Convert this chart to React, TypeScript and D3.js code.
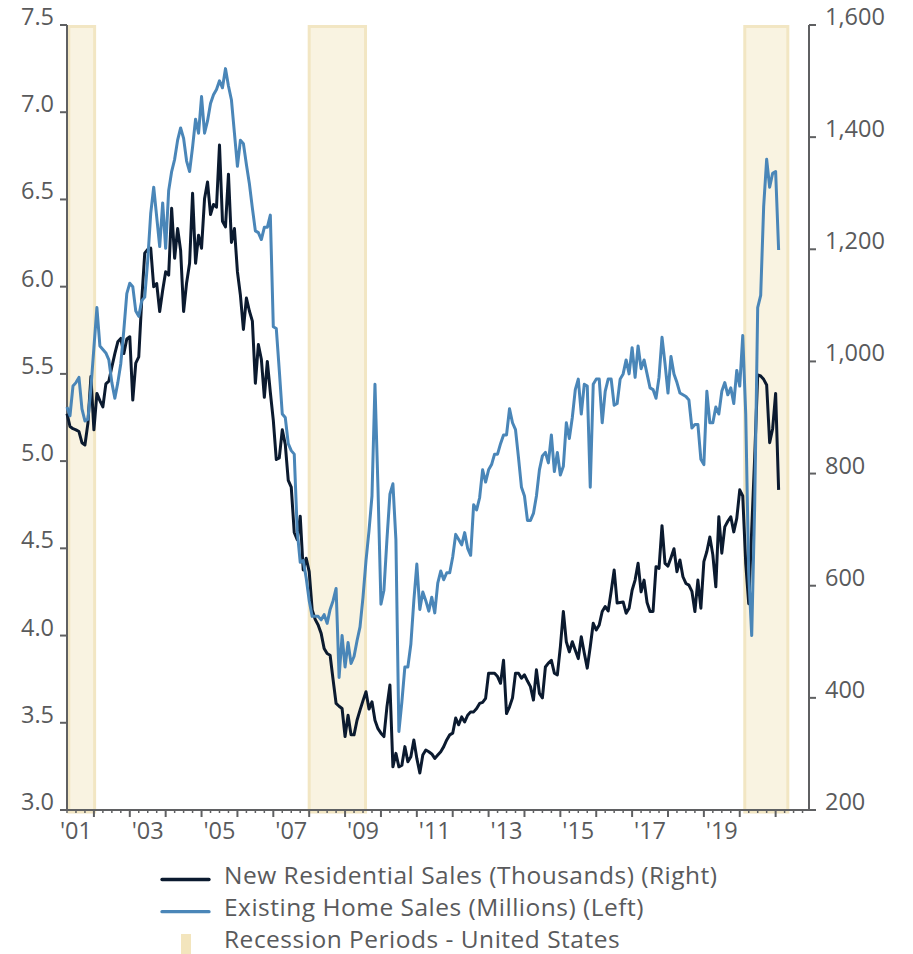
import React from "react";
import * as d3 from "d3";

// ---- Data (monthly, starting April 2001, ending February 2021) ----
const START_YEAR = 2001;
const START_MONTH = 4; // April

// New Residential Sales (Thousands, SAAR) — right axis
const newHomeSales: number[] = [
  // 2001 Apr-Dec
  907, 884, 880, 878, 875, 855, 851, 890, 973,
  // 2002
  878, 943, 930, 919, 960, 965, 990, 1014, 1035, 1041, 1014, 1040,
  // 2003
  1044, 931, 997, 1008, 1110, 1193, 1200, 1202, 1133, 1139, 1089, 1127,
  // 2004
  1160, 1154, 1273, 1184, 1237, 1198, 1089, 1140, 1175, 1300, 1175, 1225,
  // 2005
  1202, 1290, 1320, 1262, 1280, 1275, 1386, 1250, 1240, 1334, 1212, 1237,
  // 2006
  1160, 1118, 1057, 1113, 1090, 1072, 961, 1030, 1004, 936, 1000, 945,
  // 2007
  895, 825, 828, 878, 852, 788, 776, 695, 682, 724, 628, 649,
  // 2008
  625, 557, 540, 530, 515, 488, 479, 476, 432, 390, 385, 381,
  // 2009
  331, 369, 334, 334, 360, 378, 395, 411, 380, 393, 360, 345,
  // 2010
  337, 331, 384, 423, 277, 301, 277, 280, 313, 286, 295, 325,
  // 2011
  292, 266, 298, 307, 304, 300, 292, 298, 304, 313, 325, 334,
  // 2012
  337, 364, 352, 366, 357, 369, 375, 375, 381, 390, 392, 399,
  // 2013
  444, 444, 444, 438, 426, 467, 372, 384, 400, 444, 444, 435,
  // 2014
  441, 430, 420, 396, 450, 408, 400, 455, 462, 467, 444, 441,
  // 2015
  491, 554, 500, 482, 500, 485, 470, 509, 480, 453, 491, 533,
  // 2016
  521, 530, 554, 563, 555, 590, 628, 569, 570, 571, 551, 560,
  // 2017
  592, 610, 640, 589, 610, 570, 554, 554, 634, 631, 707, 640,
  // 2018
  635, 650, 666, 625, 646, 616, 604, 601, 590, 554, 610, 560,
  // 2019
  643, 661, 687, 655, 598, 723, 658, 705, 715, 723, 696, 720,
  // 2020
  771, 760, 640, 568, 700, 830, 976, 974, 968, 958, 855, 880,
  // 2021 Jan-Feb
  943, 771,
];

// Existing Home Sales (Millions, SAAR) — left axis
const existingHomeSales: number[] = [
  // 2001 Apr-Dec
  5.31, 5.26, 5.43, 5.45, 5.48, 5.30, 5.23, 5.24, 5.42,
  // 2002
  5.65, 5.88, 5.66, 5.64, 5.62, 5.58, 5.45, 5.36, 5.45, 5.56, 5.75, 5.96,
  // 2003
  6.02, 6.00, 5.86, 5.83, 5.92, 5.94, 6.15, 6.42, 6.57, 6.40, 6.23, 6.48,
  // 2004
  6.22, 6.55, 6.66, 6.73, 6.84, 6.91, 6.85, 6.72, 6.66, 6.80, 6.96, 6.88,
  // 2005
  7.09, 6.88, 6.95, 7.05, 7.10, 7.13, 7.18, 7.14, 7.25, 7.15, 7.07, 6.88,
  // 2006
  6.69, 6.84, 6.82, 6.70, 6.59, 6.45, 6.32, 6.31, 6.27, 6.34, 6.34, 6.41,
  // 2007
  5.77, 5.76, 5.52, 5.27, 5.25, 5.10, 5.06, 5.04, 4.60, 4.42, 4.43, 4.33,
  // 2008
  4.20, 4.11, 4.11, 4.11, 4.09, 4.12, 4.07, 4.15, 4.20, 4.27, 3.76, 4.00,
  // 2009
  3.82, 3.96, 3.84, 3.88, 3.97, 4.05, 4.22, 4.43, 4.60, 4.80, 5.44, 4.85,
  // 2010
  4.18, 4.26, 4.55, 4.81, 4.87, 4.55, 3.45, 3.62, 3.82, 3.82, 3.95, 4.20,
  // 2011
  4.41, 4.15, 4.25, 4.20, 4.14, 4.22, 4.13, 4.30, 4.37, 4.32, 4.36, 4.36,
  // 2012
  4.45, 4.58, 4.55, 4.52, 4.59, 4.50, 4.46, 4.75, 4.72, 4.79, 4.95, 4.88,
  // 2013
  4.95, 4.98, 5.04, 5.04, 5.10, 5.15, 5.15, 5.30, 5.22, 5.18, 5.02, 4.85,
  // 2014
  4.80, 4.66, 4.66, 4.70, 4.80, 4.95, 5.03, 5.05, 4.99, 5.15, 4.94, 5.05,
  // 2015
  4.92, 4.97, 5.22, 5.13, 5.25, 5.41, 5.47, 5.27, 5.44, 5.43, 4.85, 5.44,
  // 2016
  5.47, 5.47, 5.22, 5.40, 5.47, 5.47, 5.32, 5.33, 5.47, 5.50, 5.58, 5.50,
  // 2017
  5.65, 5.48, 5.66, 5.53, 5.58, 5.50, 5.42, 5.41, 5.36, 5.48, 5.71, 5.56,
  // 2018
  5.39, 5.60, 5.50, 5.45, 5.39, 5.38, 5.37, 5.35, 5.19, 5.21, 5.21, 5.01,
  // 2019
  4.98, 5.40, 5.22, 5.22, 5.31, 5.27, 5.40, 5.45, 5.38, 5.42, 5.33, 5.52,
  // 2020
  5.43, 5.72, 5.27, 4.35, 4.00, 4.75, 5.88, 5.95, 6.46, 6.73, 6.57, 6.65,
  // 2021 Jan-Feb
  6.66, 6.21,
];

// Recession periods (fractional years)
const recessionStarts: number[] = [2001.3, 2008.0, 2020.14];
const recessionEnds: number[] = [2002.02, 2009.57, 2021.34];

// Axis ticks
const leftTicks: number[] = [3.0, 3.5, 4.0, 4.5, 5.0, 5.5, 6.0, 6.5, 7.0, 7.5];
const rightTicks: number[] = [200, 400, 600, 800, 1000, 1200, 1400, 1600];
const labelYears: number[] = [2001, 2003, 2005, 2007, 2009, 2011, 2013, 2015, 2017, 2019];
const yearLabels: string[] = ["'01", "'03", "'05", "'07", "'09", "'11", "'13", "'15", "'17", "'19"];

const legendLabels: string[] = [
  "New Residential Sales (Thousands) (Right)",
  "Existing Home Sales (Millions) (Left)",
  "Recession Periods - United States",
];

// ---- Styles ----
const FONT = "'Source Sans Pro', 'Open Sans', 'Noto Sans', sans-serif";
const FONT_SIZE = 23.5;
const LEGEND_FONT_SIZE = 24.5;
const TEXT_COLOR = "#595a5c";
const AXIS_COLOR = "#5f6062";
const NEW_COLOR = "#0b1a2f";
const EXIST_COLOR = "#4a86b8";
const REC_FILL = "#f9f3e1";
const REC_STROKE = "#f2e6c3";

export default function App() {
  const left = 67;
  const right = 809;
  const top = 25;
  const bottom = 810;

  const t0 = START_YEAR + (START_MONTH - 1) / 12;
  const x = d3.scaleLinear().domain([t0, 2021.93]).range([left, right]);
  const yL = d3.scaleLinear().domain([3, 7.5]).range([bottom, top]);
  const yR = d3.scaleLinear().domain([200, 1600]).range([bottom, top]);

  const tOf = (i: number) => t0 + i / 12;

  const lineNew = d3
    .line<number>()
    .x((_, i) => x(tOf(i)))
    .y((d) => yR(d));
  const lineExist = d3
    .line<number>()
    .x((_, i) => x(tOf(i)))
    .y((d) => yL(d));

  // year ticks and quarterly minor ticks
  const majorYears = d3.range(2002, 2022);
  const minorTicks: number[] = [];
  for (let y = 2001; y <= 2021; y++) {
    for (const q of [0.25, 0.5, 0.75]) {
      const t = y + q;
      if (t >= t0 && t <= 2021.93) minorTicks.push(t);
    }
  }

  const fmtL = d3.format(".1f");
  const fmtR = d3.format(",");

  return (
    <svg
      width={913}
      height={954}
      style={{ position: "absolute", left: 0, top: 0, background: "#fff" }}
      fontFamily={FONT}
    >
      {/* recession bands */}
      {recessionStarts.map((s, i) => (
        <rect
          key={"rec" + i}
          x={x(s)}
          y={top + 1.5}
          width={x(recessionEnds[i]) - x(s)}
          height={bottom + 2 - top - 1.5}
          fill={REC_FILL}
          stroke={REC_STROKE}
          strokeWidth={3}
        />
      ))}

      {/* axes lines */}
      <line x1={left} x2={left} y1={top} y2={bottom} stroke={AXIS_COLOR} strokeWidth={2} />
      <line x1={right} x2={right} y1={top} y2={bottom} stroke={AXIS_COLOR} strokeWidth={2} />
      <line x1={left - 1} x2={right + 1} y1={bottom} y2={bottom} stroke={AXIS_COLOR} strokeWidth={2} />

      {/* left ticks */}
      {leftTicks.map((v) => (
        <g key={"l" + v}>
          <line x1={left - 7} x2={left} y1={yL(v)} y2={yL(v)} stroke={AXIS_COLOR} strokeWidth={2} />
          <text x={54} y={yL(v)} textAnchor="end" fontSize={FONT_SIZE} fill={TEXT_COLOR}>
            {fmtL(v)}
          </text>
        </g>
      ))}

      {/* right ticks */}
      {rightTicks.map((v) => (
        <g key={"r" + v}>
          <line x1={right} x2={right + 7} y1={yR(v)} y2={yR(v)} stroke={AXIS_COLOR} strokeWidth={2} />
          <text x={825} y={yR(v)} textAnchor="start" fontSize={FONT_SIZE} fill={TEXT_COLOR}>
            {fmtR(v)}
          </text>
        </g>
      ))}

      {/* bottom ticks */}
      {majorYears.map((yr) => (
        <line key={"mj" + yr} x1={x(yr)} x2={x(yr)} y1={bottom} y2={bottom + 7} stroke={AXIS_COLOR} strokeWidth={2} />
      ))}
      {minorTicks.map((t) => (
        <line key={"mn" + t} x1={x(t)} x2={x(t)} y1={bottom} y2={bottom + 3} stroke={AXIS_COLOR} strokeWidth={1.5} />
      ))}
      {labelYears.map((yr, i) => (
        <text key={"yl" + yr} x={x(yr + 0.5)} y={839} textAnchor="middle" fontSize={FONT_SIZE} fill={TEXT_COLOR}>
          {yearLabels[i]}
        </text>
      ))}

      {/* series */}
      <path d={lineNew(newHomeSales) || ""} fill="none" stroke={NEW_COLOR} strokeWidth={3} strokeLinejoin="round" />
      <path d={lineExist(existingHomeSales) || ""} fill="none" stroke={EXIST_COLOR} strokeWidth={3} strokeLinejoin="round" />

      {/* legend */}
      <line x1={162} x2={209} y1={879.5} y2={879.5} stroke={NEW_COLOR} strokeWidth={3.3} strokeLinecap="round" />
      <line x1={162} x2={209} y1={911.7} y2={911.7} stroke={EXIST_COLOR} strokeWidth={3.3} strokeLinecap="round" />
      <rect x={181} y={934} width={10} height={20} fill="#f3e5bd" />
      {legendLabels.map((l, i) => (
        <text
          key={"lg" + i}
          x={224}
          y={883.5 + i * 32}
          fontSize={LEGEND_FONT_SIZE}
          letterSpacing={0.5}
          fill={TEXT_COLOR}
        >
          {l}
        </text>
      ))}
    </svg>
  );
}
